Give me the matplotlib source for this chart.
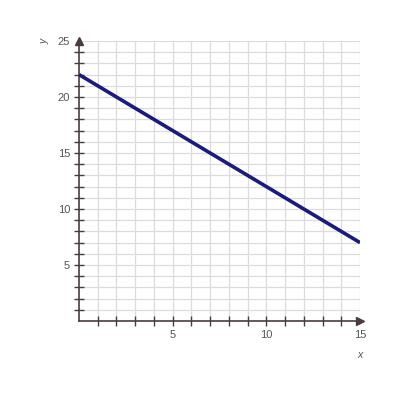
import matplotlib.pyplot as plt
import numpy as np

plt.rcParams['font.family'] = ['Liberation Sans', 'DejaVu Sans']

# line data
line_x = [0, 15]
line_y = [22, 7]

x_labels = [5, 10, 15]
y_labels = [5, 10, 15, 20, 25]

axis_col = '#4a3c3c'
grid_col = '#dcdcdc'
text_col = '#555555'

fig = plt.figure(figsize=(4, 4), dpi=100)
ax = fig.add_axes([0.1975, 0.1975, 0.7025, 0.70])
ax.set_xlim(0, 15)
ax.set_ylim(0, 25)

# grid every unit
for v in range(1, 16):
    ax.axvline(v, color=grid_col, lw=0.9, zorder=0)
for v in range(1, 26):
    ax.axhline(v, color=grid_col, lw=0.9, zorder=0)

ax.plot(line_x, line_y, color='#1a1a80', lw=2.6, zorder=3, solid_capstyle='butt')

for s in ['top', 'right']:
    ax.spines[s].set_visible(False)
for s in ['left', 'bottom']:
    ax.spines[s].set_color(axis_col)
    ax.spines[s].set_linewidth(1.2)

# arrows at axis ends
ax.plot(15, 0, marker='>', color=axis_col, ms=6, clip_on=False, zorder=4)
ax.plot(0, 25, marker='^', color=axis_col, ms=6, clip_on=False, zorder=4)

ax.set_xticks(range(1, 16))
ax.set_xticklabels([str(v) if v in x_labels else '' for v in range(1, 16)])
ax.set_yticks(range(1, 26))
ax.set_yticklabels([str(v) if v in y_labels else '' for v in range(1, 26)])
ax.tick_params(direction='inout', length=7, width=1, color=axis_col,
               labelsize=8, labelcolor=text_col, pad=3)
ax.xaxis.get_major_ticks()[-1].tick1line.set_visible(False)
ax.yaxis.get_major_ticks()[-1].tick1line.set_visible(False)

ax.text(15.0, -3.0, 'x', ha='center', va='center', fontsize=7.5, style='italic', color=text_col)
ax.text(-1.85, 25, 'y', ha='center', va='center', fontsize=7.5, style='italic', color=text_col, rotation=90)

fig.savefig('out.png', dpi=100)
